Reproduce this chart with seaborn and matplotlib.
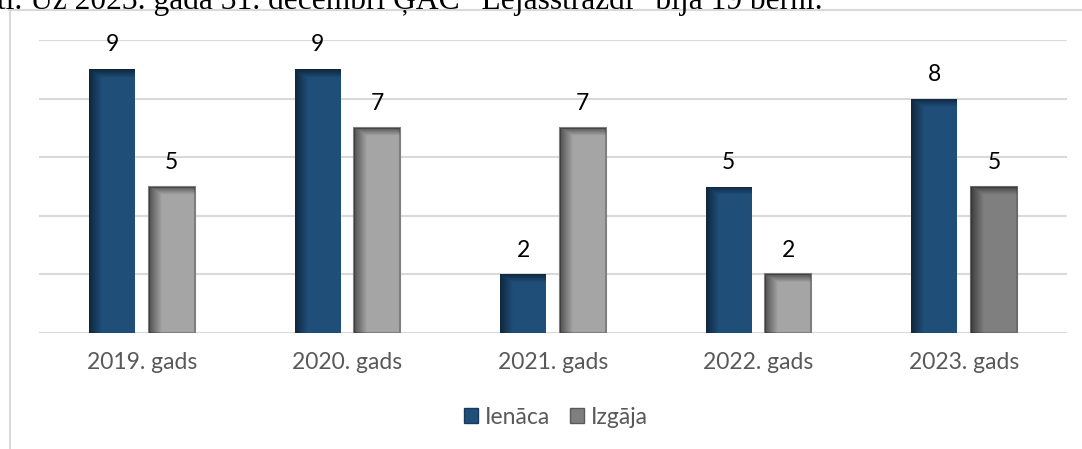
import numpy as np
import pandas as pd
import matplotlib.pyplot as plt
import seaborn as sns
from matplotlib.patches import Patch
from matplotlib.lines import Line2D

# dati
years = ['2019. gads', '2020. gads', '2021. gads', '2022. gads', '2023. gads']
ienaca = [9, 9, 2, 5, 8]
izgaja = [5, 7, 7, 2, 5]
series = ['Ienāca', 'Izgāja']

blue = '#1f4e79'
gray = '#a5a5a5'
dark_gray = '#7f7f7f'
text_gray = '#595959'
grid_col = '#d9d9d9'

df = pd.DataFrame({
    'gads': years * 2,
    'grupa': [series[0]] * len(years) + [series[1]] * len(years),
    'skaits': ienaca + izgaja,
})

sns.set_theme(style='white')
plt.rcParams['font.family'] = ['Lato', 'DejaVu Sans']

fig = plt.figure(figsize=(10.82, 4.49), dpi=100)
ax = fig.add_axes([39 / 1082, 1 - 333 / 449, (1067 - 39) / 1082, (333 - 40) / 449])

sns.barplot(data=df, x='gads', y='skaits', hue='grupa', palette=[blue, gray],
            width=0.58, gap=0.23, errorbar=None, legend=False, saturation=1, ax=ax)

# pelēkajiem stabiņiem kontūra, pēdējais tumšāks
for p in ax.containers[1]:
    p.set_edgecolor(dark_gray)
    p.set_linewidth(1.5)
ax.containers[1][-1].set_facecolor(dark_gray)
ax.containers[1][-1].set_edgecolor('#6b6b6b')
for p in ax.containers[0]:
    p.set_edgecolor('none')


# ēnojums stabiņiem (tumšāka kreisā mala un augša)
def shade(patch, strength=0.5):
    x0, y0 = patch.get_x(), patch.get_y()
    w, h = patch.get_width(), patch.get_height()
    nx, ny = 60, 200
    xs = np.linspace(0, 1, nx)
    ys = np.linspace(y0 + h, y0, ny)
    left = np.clip(1 - xs / 0.28, 0, 1) * strength
    top = np.clip(1 - (y0 + h - ys) / 0.28, 0, 1) * strength
    alpha = np.maximum(left[None, :], top[:, None])
    img = np.zeros((ny, nx, 4))
    img[..., 3] = alpha
    im = ax.imshow(img, extent=(x0, x0 + w, y0, y0 + h), aspect='auto',
                   interpolation='bilinear', zorder=patch.get_zorder() + 0.1)
    im.set_clip_path(patch)


for cont in ax.containers:
    for p in cont:
        shade(p)

ax.set_ylim(0, 10)
ax.set_xlim(-0.5, 4.5)

for cont in ax.containers:
    ax.bar_label(cont, padding=10, fontsize=16.5, color='black')

ax.set_yticks([0, 2, 4, 6, 8, 10])
ax.set_yticklabels([])
ax.yaxis.grid(True, color=grid_col, linewidth=1.5)
ax.set_axisbelow(True)
ax.tick_params(axis='y', length=0)
ax.tick_params(axis='x', length=0, pad=14, labelsize=16.5, labelcolor=text_gray)
ax.set_xlabel('')
ax.set_ylabel('')
sns.despine(ax=ax, left=True, bottom=True)

handles = [Patch(facecolor=blue, edgecolor='#163a5c', label=series[0]),
           Patch(facecolor=dark_gray, edgecolor='#5a5a5a', label=series[1])]
fig.legend(handles=handles, loc='center', bbox_to_anchor=(556 / 1082, 1 - 417 / 449),
           ncol=2, frameon=False, fontsize=16.5, labelcolor=text_gray,
           handlelength=0.6, handleheight=0.6, handletextpad=0.3, columnspacing=0.9)

# diagrammas rāmis
fig.add_artist(Line2D([9 / 1082, 1], [1 - 10 / 449, 1 - 10 / 449], color=grid_col, lw=1.5))
fig.add_artist(Line2D([10 / 1082, 10 / 1082], [0, 1 - 10 / 449], color=grid_col, lw=1.5))

# nogrieztais teksts virs diagrammas
fig.text(-3 / 1082, 1 - 8.5 / 449, 'ti. Uz 2023. gada 31. decembrī ĢAC “Lejasstrazdi” bija 19 bērni.',
         family='Liberation Serif', fontsize=22.7, color='black', va='baseline', ha='left')

fig.savefig('out.png', dpi=100)
